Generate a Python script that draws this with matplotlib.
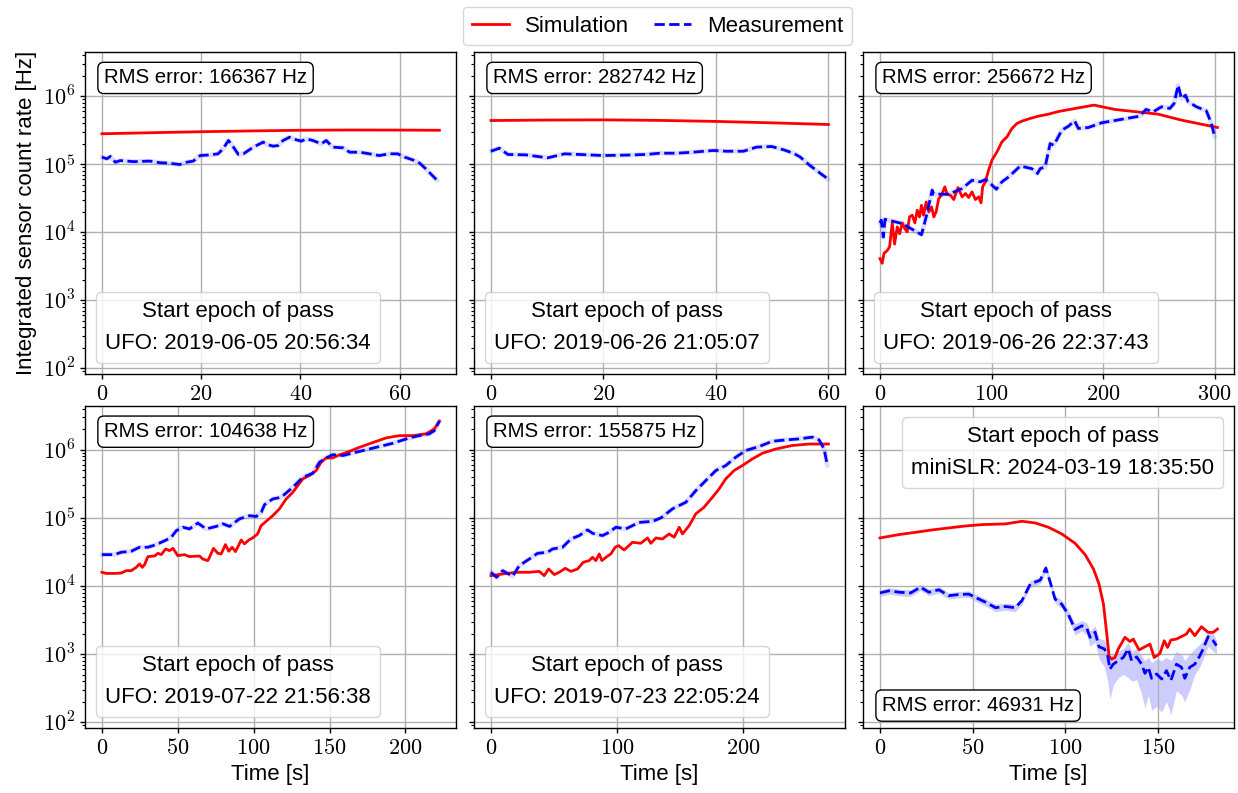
import numpy as np
import matplotlib
matplotlib.use("Agg")
import matplotlib.pyplot as plt
from matplotlib.lines import Line2D
from matplotlib.ticker import FuncFormatter, MultipleLocator, LogLocator

plt.rcParams['font.family'] = ['Liberation Sans', 'DejaVu Sans']
plt.rcParams['mathtext.fontset'] = 'cm'
plt.rcParams['axes.linewidth'] = 1.0

# ---- data (time [s], count rate [Hz]) ----
p1_sim_t = [0, 10, 20, 30, 40, 50, 60, 68]
p1_sim = [2.8e5, 2.9e5, 3.0e5, 3.08e5, 3.15e5, 3.18e5, 3.17e5, 3.15e5]
p1_meas_t = [0, 1.0, 1.7, 2.7, 3.7, 6.4, 9.7, 11.7, 13.1, 15.7, 17.1, 18.4, 19.8, 21.8, 23.4,
             24.4, 25.5, 26.5, 27.5, 28.5, 30.5, 32.5, 33.2, 34.5, 35.5, 36.5, 37.8, 39.2,
             40.2, 41.2, 42.5, 44.2, 45.2, 46.5, 48.6, 49.9, 51.9, 53.2, 54.6, 55.9, 57.9,
             59.6, 61.0, 62.6, 64.0, 65.3, 66.6, 67.6]
p1_meas = [1.27e5, 1.2e5, 1.3e5, 1.07e5, 1.13e5, 1.09e5, 1.11e5, 1.05e5, 1.04e5, 9.9e4, 1.07e5,
           1.11e5, 1.34e5, 1.37e5, 1.42e5, 1.68e5, 2.23e5, 1.78e5, 1.39e5, 1.42e5, 1.78e5,
           2.11e5, 1.95e5, 1.84e5, 1.88e5, 2.23e5, 2.49e5, 2.28e5, 2.18e5, 2.36e5, 2.23e5,
           1.99e5, 2.23e5, 1.78e5, 1.74e5, 1.5e5, 1.5e5, 1.45e5, 1.39e5, 1.34e5, 1.42e5,
           1.42e5, 1.27e5, 1.16e5, 1.04e5, 8.5e4, 6.8e4, 5.75e4]

p2_sim_t = [0, 10, 20, 30, 40, 50, 60]
p2_sim = [4.38e5, 4.45e5, 4.48e5, 4.4e5, 4.25e5, 4.05e5, 3.83e5]
p2_meas_t = [0, 1.5, 3.0, 6.2, 10.1, 13.1, 15.7, 19.9, 24.1, 27.6, 30.0, 33.0, 35.9, 39.5,
             41.9, 44.9, 47.2, 49.9, 52.0, 53.8, 55.0, 56.7, 58.5, 60.0]
p2_meas = [1.55e5, 1.72e5, 1.39e5, 1.37e5, 1.24e5, 1.42e5, 1.39e5, 1.34e5, 1.36e5, 1.39e5,
           1.45e5, 1.45e5, 1.5e5, 1.59e5, 1.55e5, 1.55e5, 1.78e5, 1.82e5, 1.63e5, 1.45e5,
           1.27e5, 9.6e4, 7.4e4, 6.0e4]

p3_sim_t = [0, 2, 3.6, 6.6, 8.6, 11, 13.1, 15.5, 17.6, 20, 22.3, 24.4, 26.5, 28.9, 31.3, 33.4,
            35.4, 37.2, 39.0, 41.4, 43.8, 46.2, 48.3, 50.3, 52.7, 55.1, 58.1, 60.2, 63.2, 66.1,
            70.0, 73.6, 76.6, 79.5, 82.5, 85.5, 88.5, 90.6, 92, 94.4, 97.4, 100.4, 104.9,
            109.3, 113.8, 118.3, 122.7, 127.2, 134.6, 142.1, 151, 160, 174.9, 191.8, 210.6,
            249.3, 270.2, 302.4]
p3_sim = [4.1e3, 3.5e3, 4.9e3, 5.4e3, 6.1e3, 1.37e4, 6.7e3, 1.2e4, 9.5e3, 1.37e4, 1.13e4,
          1.01e4, 1.68e4, 1.78e4, 1.37e4, 2.11e4, 1.68e4, 2.49e4, 1.78e4, 2.79e4, 1.99e4,
          2.36e4, 1.68e4, 1.99e4, 3.13e4, 3.5e4, 4.64e4, 3.62e4, 3.5e4, 3.02e4, 4.54e4,
          3.31e4, 3.71e4, 3.24e4, 3.92e4, 3.02e4, 3.31e4, 2.7e4, 4.64e4, 5.5e4, 8.2e4,
          1.15e5, 1.52e5, 2.13e5, 2.52e5, 3.35e5, 3.96e5, 4.29e5, 4.7e5, 5.08e5, 5.43e5,
          5.95e5, 6.59e5, 7.38e5, 6.37e5, 5.43e5, 4.44e5, 3.46e5]
p3_meas_t = [0, 1.2, 3, 4.5, 20, 37.2, 41.4, 46.8, 48.3, 61.7, 73.6, 82.5, 90, 94.4, 98.9,
             104.3, 109.3, 115.3, 125.7, 136.1, 141.2, 143.6, 148, 152.5, 155.5, 158.5, 163,
             169, 174.4, 177.8, 186.8, 198.7, 219.5, 232.9, 238.3, 244.9, 252.3, 259.8, 263.6,
             267.2, 270.2, 273.8, 276.1, 283.6, 292.5, 297, 300]
p3_meas = [1.37e4, 1.5e4, 8.5e3, 1.55e4, 1.34e4, 9.2e3, 1.68e4, 4.15e4, 3.62e4, 3.62e4,
           4.39e4, 5.8e4, 5.5e4, 5.95e4, 5.2e4, 4.29e4, 5.5e4, 6.5e4, 9.4e4, 8.6e4, 7.3e4,
           8.6e4, 9.1e4, 2.01e5, 1.9e5, 2.3e5, 3.16e5, 3.62e5, 4.34e5, 3.35e5, 3.46e5,
           4.06e5, 4.65e5, 5.08e5, 6.37e5, 5.89e5, 6.97e5, 6.59e5, 7.8e5, 1.45e6, 9.2e5,
           1.03e6, 8.3e5, 6.97e5, 6.08e5, 3.96e5, 2.52e5]

p4_sim_t = [0, 2.9, 8.3, 12.7, 16, 19.3, 22.6, 24.8, 26.6, 28.1, 30.3, 34.7, 37, 39.1, 42,
            44.6, 46.8, 50, 54.4, 57.7, 64.3, 66.5, 69.8, 70.9, 73.5, 76.4, 78.6, 81.4, 83.6,
            85.8, 88, 91.8, 93.9, 96.8, 99.3, 102.6, 104.9, 108.2, 112.6, 117, 121.4, 125.8,
            129.1, 132.4, 136.8, 141.2, 144.5, 147.8, 152.2, 155.5, 163.1, 169.7, 178.5,
            187.3, 196, 204.8, 213.6, 219.1, 222.4]
p4_sim = [1.59e4, 1.53e4, 1.53e4, 1.55e4, 1.68e4, 1.68e4, 1.88e4, 2.11e4, 1.88e4, 2.06e4,
          2.7e4, 2.76e4, 3.02e4, 2.89e4, 3.5e4, 3.31e4, 3.58e4, 2.79e4, 2.89e4, 2.7e4,
          2.76e4, 2.49e4, 2.36e4, 2.64e4, 3.58e4, 3.02e4, 2.96e4, 4.06e4, 3.24e4, 3.71e4,
          3.2e4, 4.74e4, 4.15e4, 4.74e4, 5.08e4, 5.82e4, 7.7e4, 8.9e4, 1.08e5, 1.36e5,
          1.9e5, 2.38e5, 2.99e5, 3.75e5, 4.2e5, 4.97e5, 6.59e5, 7.62e5, 7.62e5, 8.26e5,
          9.5e5, 1.09e6, 1.28e6, 1.5e6, 1.62e6, 1.62e6, 1.72e6, 2.04e6, 2.64e6]
p4_meas_t = [0, 8.3, 12.7, 19.3, 24.8, 30.3, 35.8, 42.4, 45.7, 49, 53.3, 57.7, 63.2, 68.7,
             75.3, 79.7, 84.1, 90.7, 97.3, 101.7, 105, 107.2, 112.6, 118.1, 125.8, 132.4, 139,
             143.4, 147.8, 152.2, 158.8, 169.7, 180.7, 191.7, 202.6, 209.2, 215.8, 219.1, 222.4]
p4_meas = [2.89e4, 2.89e4, 3.13e4, 3.24e4, 3.71e4, 3.71e4, 4.06e4, 4.74e4, 5.2e4, 6.5e4,
           7.3e4, 6.9e4, 8.4e4, 6.9e4, 7.5e4, 8.2e4, 7.5e4, 9.7e4, 1.08e5, 1.05e5, 1.21e5,
           1.57e5, 1.9e5, 2.01e5, 2.82e5, 3.96e5, 4.54e5, 6.59e5, 7.62e5, 8.5e5, 8.26e5,
           9.5e5, 1.09e6, 1.25e6, 1.5e6, 1.62e6, 1.72e6, 1.92e6, 2.64e6]

p5_sim_t = [0, 9.3, 19.8, 30.4, 38.4, 42.3, 45.8, 50.3, 54.2, 59, 63.5, 68.8, 73.3, 78, 80.7,
            83.3, 86, 88.1, 91.3, 95.2, 98.7, 101.3, 105.8, 112.4, 119, 124.3, 127, 131,
            136.2, 141.5, 145.5, 149.5, 152.1, 157.4, 162.7, 169.3, 175.9, 181.2, 186.5,
            193.1, 199.7, 207.7, 215.6, 226.2, 239.4, 252.6, 268]
p5_sim = [1.42e4, 1.5e4, 1.59e4, 1.59e4, 1.64e4, 1.42e4, 1.78e4, 1.47e4, 1.59e4, 1.82e4,
          1.64e4, 1.78e4, 2.23e4, 2.36e4, 2.64e4, 2.36e4, 2.96e4, 2.36e4, 2.64e4, 2.96e4,
          3.71e4, 3.92e4, 3.38e4, 4.39e4, 4.24e4, 5.08e4, 4.24e4, 5.08e4, 4.91e4, 5.82e4,
          5.2e4, 7.3e4, 5.82e4, 7.7e4, 1.15e5, 1.44e5, 2.01e5, 2.67e5, 3.75e5, 4.97e5,
          5.89e5, 7.38e5, 8.93e5, 1.03e6, 1.16e6, 1.22e6, 1.22e6]
p5_meas_t = [0, 4.5, 9.3, 17.2, 22.5, 30.4, 37, 45, 48.9, 56.9, 63.5, 70.1, 76.7, 80.7, 88.6,
             93.9, 99.2, 107.1, 117.7, 128.3, 134.9, 144.2, 154.8, 162.7, 170.6, 178.6, 186.5,
             194.4, 202.4, 213, 223.5, 234.1, 244.7, 255.3, 260.6, 264.6, 267.2]
p5_meas = [1.59e4, 1.34e4, 1.68e4, 1.39e4, 1.99e4, 2.49e4, 3.02e4, 3.13e4, 3.5e4, 3.71e4,
           4.91e4, 5.5e4, 6.67e4, 5.95e4, 5.5e4, 6.15e4, 7.3e4, 6.9e4, 8.6e4, 8.9e4, 1.0e5,
           1.36e5, 1.7e5, 2.52e5, 3.54e5, 4.97e5, 5.89e5, 7.8e5, 9.8e5, 1.12e6, 1.34e6,
           1.4e6, 1.45e6, 1.54e6, 1.4e6, 1.03e6, 5.89e5]

p6_sim_t = [0, 10.2, 19.2, 28.2, 37.1, 46.1, 55.1, 67.6, 76.6, 83.8, 90.9, 98.1, 105.3,
            110.7, 115.2, 118.2, 120.6, 122.4, 123.6, 125, 126.8, 128.6, 132.2, 134.9, 136.7,
            139.8, 143, 145.7, 148, 151.1, 153.4, 155.2, 157, 160, 165.4, 167.2, 169.9,
            173.5, 177.1, 179.8, 182.1]
p6_sim = [5.08e4, 5.69e4, 6.15e4, 6.67e4, 7.13e4, 7.62e4, 7.98e4, 8.17e4, 8.93e4, 8.44e4,
          7.3e4, 5.82e4, 4.24e4, 2.89e4, 1.78e4, 1.07e4, 5.43e3, 1.97e3, 9.4e2, 8.4e2, 8.9e2,
          1.19e3, 1.76e3, 1.53e3, 1.66e3, 1.15e3, 1.28e3, 1.4e3, 8.9e2, 1.02e3, 1.57e3,
          1.25e3, 1.61e3, 1.66e3, 1.97e3, 2.33e3, 1.86e3, 2.52e3, 2.08e3, 2.08e3, 2.33e3]
p6_meas_t = [0, 4.8, 10.2, 16.5, 21.9, 26.4, 31.8, 37.1, 42.5, 47.9, 51.5, 56.9, 62.3, 67.6,
             73, 76.6, 81.1, 86.5, 89.5, 91.9, 94.5, 98.1, 101.7, 105.3, 108.9, 111.6, 113.4,
             116.1, 118.2, 121.1, 122.9, 124.1, 125.9, 128.6, 131.3, 134, 135.8, 138.5, 141.2,
             143, 144.8, 146.6, 149.3, 152, 154.6, 157, 160, 162.7, 164.5, 167.2, 169.9,
             172.6, 174.4, 177.1, 179.8, 181.6]
p6_meas = [7.9e3, 8.5e3, 8.1e3, 7.9e3, 9.6e3, 8.1e3, 8.8e3, 7.2e3, 7.5e3, 7.6e3, 6.8e3,
           5.8e3, 4.8e3, 5.0e3, 4.8e3, 6.1e3, 1.07e4, 1.22e4, 1.84e4, 1.13e4, 6.4e3, 5.4e3,
           3.8e3, 2.3e3, 2.6e3, 2.4e3, 1.76e3, 2.1e3, 1.28e3, 1.19e3, 9.4e2, 6.0e2, 7.1e2,
           8.0e2, 8.9e2, 1.19e3, 8.0e2, 9.1e2, 7.1e2, 5.2e2, 6.4e2, 4.4e2, 5.1e2, 4.3e2,
           5.7e2, 4.1e2, 7.1e2, 6.4e2, 4.4e2, 6.4e2, 7.1e2, 9.4e2, 1.19e3, 1.8e3, 1.57e3, 1.33e3]
p6_meas_lo = [7.0e3, 7.6e3, 7.2e3, 7.0e3, 8.6e3, 7.2e3, 7.9e3, 6.4e3, 6.7e3, 6.8e3, 6.0e3,
              5.1e3, 4.2e3, 4.4e3, 4.2e3, 5.4e3, 9.5e3, 1.08e4, 1.6e4, 1.0e4, 5.6e3, 4.7e3,
              3.2e3, 1.9e3, 2.2e3, 1.9e3, 1.3e3, 1.5e3, 8.5e2, 6.5e2, 4.0e2, 2.2e2, 3.5e2,
              4.5e2, 5.0e2, 4.5e2, 4.0e2, 4.2e2, 2.6e2, 1.6e2, 2.5e2, 1.5e2, 1.7e2, 1.4e2,
              2.0e2, 1.3e2, 2.9e2, 2.5e2, 2.0e2, 3.0e2, 5.0e2, 6.5e2, 8.5e2, 1.3e3, 1.1e3, 1.0e3]
p6_meas_hi = [8.8e3, 9.4e3, 9.0e3, 8.8e3, 1.06e4, 9.0e3, 9.8e3, 8.0e3, 8.3e3, 8.5e3, 7.6e3,
              6.5e3, 5.4e3, 5.6e3, 5.4e3, 6.8e3, 1.2e4, 1.36e4, 2.05e4, 1.27e4, 7.3e3, 6.2e3,
              4.4e3, 2.8e3, 3.1e3, 2.9e3, 2.2e3, 2.6e3, 1.7e3, 1.6e3, 1.3e3, 9.0e2, 1.0e3,
              1.1e3, 1.2e3, 1.5e3, 1.1e3, 1.2e3, 9.5e2, 8.0e2, 9.0e2, 7.5e2, 8.5e2, 8.0e2,
              9.0e2, 8.0e2, 1.1e3, 1.0e3, 8.0e2, 1.0e3, 1.2e3, 1.4e3, 1.6e3, 2.1e3, 2.0e3, 1.6e3]

rms_errors = [166367, 282742, 256672, 104638, 155875, 46931]
epochs = ["UFO: 2019-06-05 20:56:34", "UFO: 2019-06-26 21:05:07", "UFO: 2019-06-26 22:37:43",
          "UFO: 2019-07-22 21:56:38", "UFO: 2019-07-23 22:05:24", "miniSLR: 2024-03-19 18:35:50"]

panels = [
    (p1_sim_t, p1_sim, p1_meas_t, p1_meas, 20),
    (p2_sim_t, p2_sim, p2_meas_t, p2_meas, 20),
    (p3_sim_t, p3_sim, p3_meas_t, p3_meas, 100),
    (p4_sim_t, p4_sim, p4_meas_t, p4_meas, 50),
    (p5_sim_t, p5_sim, p5_meas_t, p5_meas, 100),
    (p6_sim_t, p6_sim, p6_meas_t, p6_meas, 50),
]

fig, axes = plt.subplots(2, 3, figsize=(12.38, 7.93), dpi=100, sharey=True)
fig.subplots_adjust(left=0.0687, right=0.997, top=0.934, bottom=0.082, wspace=0.048, hspace=0.099)

xfmt = FuncFormatter(lambda v, p: f'${v:g}$')
yfmt = FuncFormatter(lambda v, p: f'$10^{{{int(round(np.log10(v)))}}}$')

for i, ax in enumerate(axes.flat):
    ts, ys, tm, ym, step = panels[i]
    if i == 5:
        ax.fill_between(tm, p6_meas_lo, p6_meas_hi, color='blue', alpha=0.2, lw=0)
    else:
        # faint halo around the measurement curve
        ax.plot(tm, ym, color='blue', alpha=0.13, lw=3.5, solid_capstyle='round')
    ax.plot(ts, ys, color='red', lw=2, label='Simulation')
    ax.plot(tm, ym, color='blue', lw=2, ls='--', label='Measurement')

    ax.set_yscale('log')
    ax.set_ylim(82, 4.4e6)
    ax.xaxis.set_major_locator(MultipleLocator(step))
    ax.xaxis.set_major_formatter(xfmt)
    ax.yaxis.set_major_locator(LogLocator(base=10, numticks=10))
    ax.yaxis.set_major_formatter(yfmt)
    ax.tick_params(labelsize=16, width=1.0)
    ax.tick_params(which='minor', width=0.8)
    ax.grid(True, which='major', color='#b0b0b0', lw=1.0)

    rms_text = f'RMS error: {rms_errors[i]} Hz'
    box = dict(boxstyle='round', fc='white', ec='black', lw=1.0)
    if i == 5:
        ax.text(0.051, 0.04, rms_text, transform=ax.transAxes, fontsize=14.7,
                va='bottom', ha='left', bbox=box, zorder=5)
        loc = 'upper right'
    else:
        ax.text(0.051, 0.95, rms_text, transform=ax.transAxes, fontsize=14.7,
                va='top', ha='left', bbox=box, zorder=5)
        loc = 'lower left'
    leg = ax.legend([Line2D([], [], alpha=0)], [epochs[i]], title='Start epoch of pass',
                    loc=loc, fontsize=16, title_fontsize=16, handlelength=0, handletextpad=0)
    leg.set_zorder(6)

for ax in axes[1]:
    ax.set_xlabel('Time [s]', fontsize=16)
axes[0, 0].set_ylabel('Integrated sensor count rate [Hz]', fontsize=16)

handles = [Line2D([], [], color='red', lw=2), Line2D([], [], color='blue', lw=2, ls='--')]
fig.legend(handles, ['Simulation', 'Measurement'], loc='upper center', ncol=2,
           bbox_to_anchor=(0.531, 1.0), borderaxespad=0.3, fontsize=16,
           handlelength=1.7, columnspacing=1.1, handletextpad=0.7)

fig.savefig('out.png', dpi=100)
